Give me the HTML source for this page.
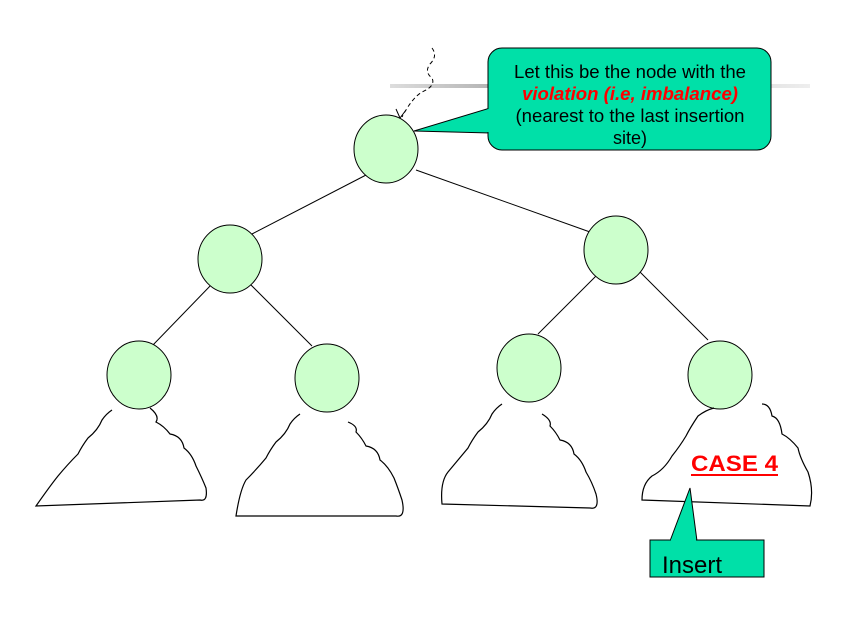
<!DOCTYPE html>
<html><head><style>body{margin:0;background:#fff}svg{display:block}</style></head><body>
<svg width="854" height="619" viewBox="0 0 854 619" xmlns="http://www.w3.org/2000/svg" font-family="'Liberation Sans', sans-serif">
<defs><linearGradient id="g" x1="0" x2="1"><stop offset="0" stop-color="#ddd"/><stop offset="0.3" stop-color="#aaa"/><stop offset="1" stop-color="#eee"/></linearGradient></defs>
<rect x="390" y="84" width="420" height="4" fill="url(#g)"/>
<path d="M432,48 q6,8 -2,16 q-6,8 2,14 q4,8 -10,14 q-10,6 -20,25" fill="none" stroke="#000" stroke-dasharray="4,3"/>
<path d="M396,109 L400,118 L406,110" fill="none" stroke="#000"/>
<g stroke="#000" stroke-width="1">
<line x1="368" y1="174" x2="252" y2="234"/>
<line x1="416" y1="170" x2="590" y2="232"/>
<line x1="212" y1="284" x2="152" y2="346"/>
<line x1="250" y1="284" x2="312" y2="346"/>
<line x1="596" y1="276" x2="538" y2="334"/>
<line x1="640" y1="272" x2="708" y2="340"/>
</g>
<g fill="#ccffcc" stroke="#000">
<ellipse cx="386" cy="149" rx="32" ry="34"/>
<ellipse cx="230" cy="259" rx="32" ry="34"/>
<ellipse cx="616" cy="250" rx="32" ry="34"/>
<ellipse cx="139" cy="375" rx="32" ry="34"/>
<ellipse cx="327" cy="378" rx="32" ry="34"/>
<ellipse cx="529" cy="368" rx="32" ry="34"/>
<ellipse cx="720" cy="375" rx="32" ry="34"/>
</g>
<g fill="none" stroke="#000" stroke-width="1.2">
<path d="M112,410 q-6,4 -10,10 q-4,10 -14,18 q-6,8 -10,16 q-10,10 -20,22 q-8,10 -22,30 L200,500 q8,2 6,-12 q-4,-10 -10,-22 q-4,-12 -12,-18 q-2,-12 -14,-14 q-6,-8 -14,-12 q4,-6 -6,-14"/>
<path d="M300,414 q-6,4 -10,10 q-4,10 -14,18 q-6,8 -10,16 q-10,12 -20,22 q-6,10 -10,36 L396,516 q10,2 6,-16 q-4,-12 -8,-22 q-6,-12 -14,-18 q-2,-12 -14,-14 q-4,-8 -10,-14 q2,-6 -8,-10"/>
<path d="M502,404 q-6,4 -10,10 q-4,10 -14,18 q-6,8 -10,16 q-10,12 -20,24 q-8,10 -6,32 L590,508 q10,2 6,-14 q-4,-12 -10,-22 q-4,-12 -12,-18 q-2,-12 -14,-14 q-4,-8 -10,-14 q2,-6 -8,-12"/>
<path d="M714,408 q-8,2 -16,8 q-8,12 -12,20 q-6,10 -14,20 q-8,14 -20,20 q-10,8 -10,24 L810,506 q4,-16 -2,-34 q-8,-14 -10,-24 q-8,-10 -16,-14 q-2,-16 -10,-18 q-2,-12 -10,-12"/>
</g>
<path d="M414,131 L490,108 L490,133 Z" fill="#00e0a8" stroke="#000"/>
<rect x="488" y="48" width="283" height="102" rx="14" fill="#00e0a8" stroke="#000"/>
<path d="M489,109 L489,132" stroke="#00e0a8" stroke-width="3"/>
<g font-size="18" text-anchor="middle">
<text x="630" y="78" textLength="232" lengthAdjust="spacingAndGlyphs">Let this be the node with the</text>
<text x="630" y="100" fill="#ff0000" font-weight="bold" font-style="italic" textLength="216" lengthAdjust="spacingAndGlyphs">violation (i.e, imbalance)</text>
<text x="630" y="122" textLength="229" lengthAdjust="spacingAndGlyphs">(nearest to the last insertion</text>
<text x="630" y="144">site)</text>
</g>
<text x="691" y="471" font-size="22" font-weight="bold" fill="#ff0000" textLength="87" lengthAdjust="spacingAndGlyphs">CASE 4</text>
<rect x="691" y="474" width="87" height="2" fill="#ff0000"/>
<path d="M670,541 L690,488 L697,541 Z" fill="#00e0a8" stroke="#000"/>
<rect x="650" y="540" width="114" height="37" fill="#00e0a8" stroke="#000"/>
<path d="M671,540 L696,540" stroke="#00e0a8" stroke-width="2"/>
<text x="662" y="573" font-size="24" textLength="60" lengthAdjust="spacingAndGlyphs">Insert</text>
</svg>
</body></html>
